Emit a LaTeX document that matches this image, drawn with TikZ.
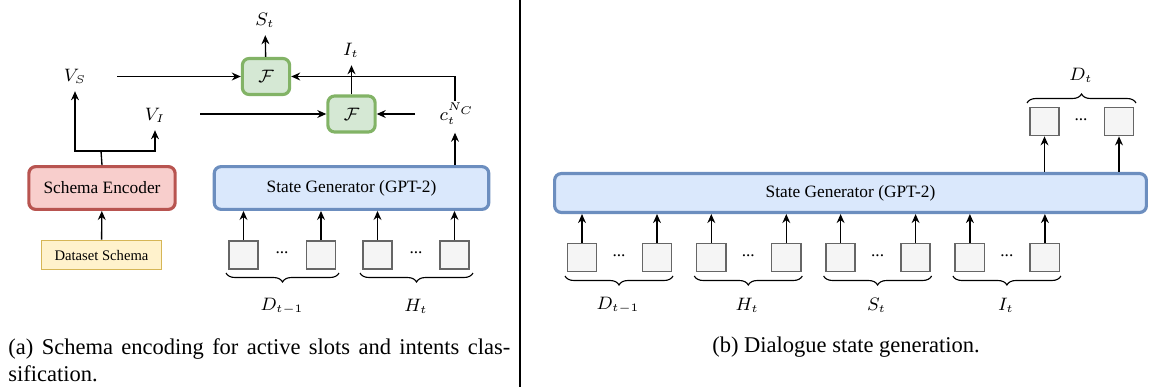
\documentclass[tikz,border=0pt]{standalone}
\usepackage{fontspec}
\setmainfont{Liberation Serif}
\usepackage{amsmath, amssymb}
\usetikzlibrary{calc, shapes, backgrounds, decorations.pathreplacing, arrows.meta}

\definecolor{fuseFill}{HTML}{D5E8D4}
\definecolor{fuseLine}{HTML}{82B366}
\definecolor{encFill}{HTML}{F8CECC}
\definecolor{encLine}{HTML}{B85450}
\definecolor{genFill}{HTML}{DAE8FC}
\definecolor{genLine}{HTML}{6C8EBF}
\definecolor{dsFill}{HTML}{FFF2CC}
\definecolor{dsLine}{HTML}{D6B656}
\definecolor{tokFill}{HTML}{F5F5F5}
\definecolor{tokLine}{HTML}{666666}

\begin{document}
\begin{tikzpicture}[
			x = 0.4444pt, y = -0.4444pt,
			every node/.style = {font = \fontsize{7.7}{9}\selectfont},
			block/.style = {draw, rounded corners = 3pt, line width = 1.4pt, inner sep = 0pt},
			fuse/.style = {block, draw = fuseLine, fill = fuseFill, minimum width = 21pt, minimum height = 16pt},
			token/.style = {draw = tokLine, fill = tokFill, line width = 0.7pt,
			minimum width = 13pt, minimum height = 12.5pt, inner sep = 0pt},
			arr/.style = {-{Stealth[length = 4pt, width = 3.5pt]}, line width = 0.6pt},
			grp/.style = {decorate, decoration = {brace, mirror, amplitude = 4pt}, line width = 0.5pt}]
			\useasboundingbox (0,0) rectangle (1151,387);
			
			% (a) schema encoding
			\node[fuse] (f1) at (266,76.5) {$\mathcal{F}$};
			\node[fuse] (f2) at (351.5,114) {$\mathcal{F}$};
			\node[block, draw = encLine, fill = encFill, minimum width = 65pt, minimum height = 19pt] (enc) at (102,188) {Schema Encoder};
			\node[block, draw = genLine, fill = genFill, minimum width = 122pt, minimum height = 19pt] (genA) at (351.5,188) {State Generator (GPT-2)};
			\node[draw = dsLine, fill = dsFill, line width = 0.6pt, minimum width = 53.5pt, minimum height = 13pt,
			inner sep = 0pt, font = \fontsize{6.5}{8}\selectfont] (ds) at (101.5,255) {Dataset Schema};
			
			\node (vs) at (75,76) {$V_S$};
			\node (vi) at (155,115) {$V_I$};
			\node (st) at (265,20) {$S_t$};
			\node (it) at (351,50) {$I_t$};
			\node (cn) at (457,114) {$c_t^{N_C}$};
			
			\coordinate (vsFrom) at (117,76.5);
			\coordinate (viFrom) at (200,114);
			\coordinate (cnFrom) at (415,114);
			\coordinate (cnTop) at (455,101);
			\coordinate (split) at (101,151);
			
			\draw[arr] (vsFrom) -- (f1.west);
			\draw[arr] (viFrom) -- (f2.west);
			\draw[arr] (cnTop) |- (f1.east);
			\draw[arr] (cnFrom) -- (f2.east);
			\draw[arr] (f1) -- (st);
			\draw[arr] (f2.north) -- (f2.north |- it.south);
			\draw[arr] (genA.north -| cnTop) -- (cn.south -| cnTop);
			\draw[line width = 0.6pt] (enc.north) -- (split);
			\draw[arr] (split) -| (vs);
			\draw[arr] (split) -| (vi);
			\draw[arr] (ds) -- (enc);
			
			\foreach \x [count = \i] in {243.5, 321, 377.5, 454.5} {
				\node[token] (a\i) at (\x,255) {};
				\draw[arr] (a\i) -- (a\i |- genA.south);
			}
			\node (aDots1) at (282,253) {...};
			\node (aDots2) at (416,253) {...};
			\draw[grp] (226,273) -- (339,273);
			\draw[grp] (360,273) -- (473,273);
			\node (aLab1) at (282,306) {$D_{t-1}$};
			\node (aLab2) at (416,306) {$H_t$};
			
			% (b) dialogue state generation
			\node[block, draw = genLine, fill = genFill, minimum width = 263pt, minimum height = 17.3pt] (genB) at (850.5,193) {State Generator (GPT-2)};
			\foreach \lab [count = \g from 0] in {D_{t-1}, H_t, S_t, I_t} {
				\pgfmathsetmacro\o{129.3*\g}
				\node[token] (bl\g) at (582+\o,257.5) {};
				\node[token] (br\g) at (657+\o,257.5) {};
				\node (bDots\g) at (619+\o,256) {...};
				\draw[arr] (bl\g) -- (bl\g |- genB.south);
				\draw[arr] (br\g) -- (br\g |- genB.south);
				\draw[grp] (565+\o,276) -- (673+\o,276);
				\node (bLab\g) at (618+\o,305) {$\lab$};
			}
			\node[token] (dl) at (1044.5,121.5) {};
			\node[token] (dr) at (1119,121.5) {};
			\node (dDots) at (1081,120) {...};
			\draw[arr] (genB.north -| dl) -- (dl);
			\draw[arr] (genB.north -| dr) -- (dr);
			\draw[grp] (1136,103) -- (1027,103);
			\node (dLab) at (1081,75) {$D_t$};
			
			% Labels
			\draw[line width = 0.6pt] (520,0) -- (520,387);
			\node[text width = 223pt, align = justify, anchor = north west, inner sep = 0pt,
			font = \fontsize{10}{12}\selectfont] (capA) at (8,338) {(a) Schema encoding for active slots and intents clas-\linebreak sification.};
			\node[font = \fontsize{10}{12}\selectfont] (capB) at (846,347) {(b) Dialogue state generation.};
		\end{tikzpicture}
\end{document}
